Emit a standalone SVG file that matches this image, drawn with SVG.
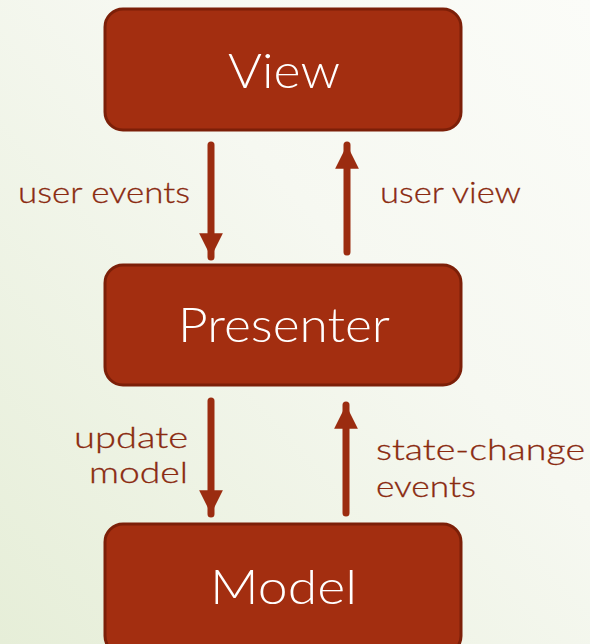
<svg xmlns="http://www.w3.org/2000/svg" width="590" height="644" viewBox="0 0 590 644">
<defs>
<linearGradient id="bg" x1="0" y1="1" x2="1" y2="0">
<stop offset="0" stop-color="#e6eed8"/>
<stop offset="0.6" stop-color="#f6f8f1"/>
<stop offset="1" stop-color="#fbfcf8"/>
</linearGradient>
<marker id="ah" viewBox="0 0 10 10" refX="10" refY="5" markerWidth="3.5" markerHeight="3.4" orient="auto" markerUnits="strokeWidth">
<path d="M0,0 L10,5 L0,10 Z" fill="#9b2c10"/>
</marker>
</defs>
<style>
.box{fill:#a32e10;stroke:#7c1f08;stroke-width:3}
.bt{font-family:Lato,"Liberation Sans",sans-serif;font-size:48px;font-weight:300;fill:#ffffff}
.lb{font-family:Lato,"Liberation Sans",sans-serif;font-size:30px;font-weight:300;fill:#8a2a10;stroke:#8a2a10;stroke-width:0.3}
.ar{stroke:#9b2c10;stroke-width:7;stroke-linecap:round;fill:none;marker-end:url(#ah)}
</style>
<rect width="590" height="644" fill="url(#bg)"/>
<g id="view"><rect class="box" x="105" y="9" width="356" height="121" rx="18"/><text class="bt" x="228" y="88" textLength="112" lengthAdjust="spacingAndGlyphs">View</text></g>
<g id="presenter"><rect class="box" x="105" y="265" width="356" height="120" rx="18"/><text class="bt" x="178" y="342" textLength="212" lengthAdjust="spacingAndGlyphs">Presenter</text></g>
<g id="model"><rect class="box" x="105" y="524" width="356" height="130" rx="18"/><text class="bt" x="210" y="604" textLength="147" lengthAdjust="spacingAndGlyphs">Model</text></g>
<g id="connectors">
<line class="ar" x1="211" y1="145" x2="211" y2="257"/>
<line class="ar" x1="347" y1="252" x2="347" y2="145"/>
<line class="ar" x1="211" y1="401" x2="211" y2="514"/>
<line class="ar" x1="346" y1="513" x2="346" y2="405"/>
</g>
<g id="labels">
<text class="lb" x="18" y="203" textLength="172" lengthAdjust="spacingAndGlyphs">user events</text>
<text class="lb" x="380" y="203" textLength="141" lengthAdjust="spacingAndGlyphs">user view</text>
<text class="lb" x="74" y="448" textLength="114" lengthAdjust="spacingAndGlyphs">update</text>
<text class="lb" x="89" y="483" textLength="99" lengthAdjust="spacingAndGlyphs">model</text>
<text class="lb" x="376" y="460" textLength="209" lengthAdjust="spacingAndGlyphs">state-change</text>
<text class="lb" x="376" y="497" textLength="100" lengthAdjust="spacingAndGlyphs">events</text>
</g>
</svg>
